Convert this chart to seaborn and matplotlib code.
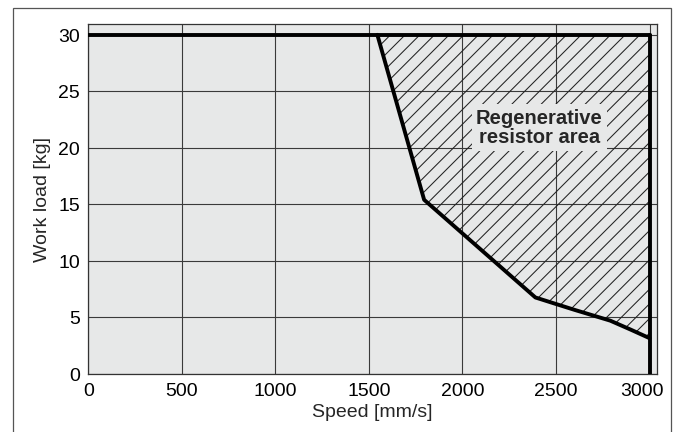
import numpy as np
import pandas as pd
import matplotlib
matplotlib.use("Agg")
import matplotlib.pyplot as plt
import matplotlib.transforms as mtransforms
import seaborn as sns
from matplotlib.patches import Rectangle

# Boundary of the regenerative resistor area
curve_speed = [1545, 1795, 2390, 2600, 2790, 2900, 3000]
curve_load = [30.0, 15.4, 6.75, 5.65, 4.7, 3.9, 3.15]

max_speed = 3000
max_load = 30

x_ticks = [0, 500, 1000, 1500, 2000, 2500, 3000]
y_ticks = [0, 5, 10, 15, 20, 25, 30]

area_label = "Regenerative\nresistor area"

# dpi 88 gives hatch spacing close to the original; sizes below are
# written as if at 100 dpi and scaled by S
DPI = 88
S = 100 / DPI

sns.set_style("white")
plt.rcParams["font.family"] = ["Liberation Sans", "DejaVu Sans"]
plt.rcParams["hatch.linewidth"] = 0.75 * S
plt.rcParams["hatch.color"] = "#222222"

fig = plt.figure(figsize=(676.5 / DPI, 432.5 / DPI), dpi=DPI)
ax = fig.add_axes([0.1306, 0.1347, 0.8406, 0.8097])
ax.set_facecolor("#e7e8e8")

# Hatched area between the curve, the top limit and the speed limit
hatch_x = curve_speed + [max_speed]
hatch_y = curve_load + [max_load]
ax.fill(hatch_x, hatch_y, facecolor="none", edgecolor="#222222",
        hatch="//", linewidth=0, zorder=2)

ax.text(2410, 21.8, area_label, ha="center", va="center", fontsize=14.5 * S,
        fontweight="bold", linespacing=1.05, zorder=4,
        bbox=dict(facecolor="#e7e8e8", edgecolor="none", pad=3 * S))

# Thick boundary lines
lw = 2.8 * S
curve_df = pd.DataFrame({"speed": curve_speed, "load": curve_load})
sns.lineplot(data=curve_df, x="speed", y="load", sort=False, estimator=None,
             color="black", linewidth=lw, ax=ax, zorder=5)
sns.lineplot(x=[0, max_speed], y=[max_load, max_load], estimator=None,
             color="black", linewidth=lw, ax=ax, zorder=5)
sns.lineplot(x=[max_speed, max_speed], y=[0, max_load], sort=False,
             estimator=None, color="black", linewidth=lw, ax=ax, zorder=5)

ax.set_xlim(0, 3040)
ax.set_ylim(0, 31)
ax.set_xticks(x_ticks)
ax.set_yticks(y_ticks)
ax.grid(True, color="#3a3a3a", linewidth=0.8 * S)
ax.set_axisbelow(True)
ax.tick_params(direction="in", length=6 * S, width=0.8 * S, colors="black",
               labelsize=14 * S, pad=6 * S)
for spine in ax.spines.values():
    spine.set_color("#333333")
    spine.set_linewidth(0.9 * S)

# the last speed label sits a little to the left in the original
last = ax.get_xticklabels()[-1]
last.set_transform(last.get_transform() +
                   mtransforms.ScaledTranslation(-9 / 100, 0, fig.dpi_scale_trans))

ax.set_xlabel("Speed [mm/s]", fontsize=14 * S, labelpad=3 * S)
ax.set_ylabel("Work load [kg]", fontsize=14 * S, labelpad=5 * S)

# Thin frame round the whole figure
fig.patches.append(Rectangle((13 / 676, -0.01), (671 - 13) / 676, 1 - 8 / 432 + 0.01,
                             transform=fig.transFigure, fill=False,
                             edgecolor="#555555", linewidth=0.9 * S))

fig.savefig("out.png", dpi=DPI)
